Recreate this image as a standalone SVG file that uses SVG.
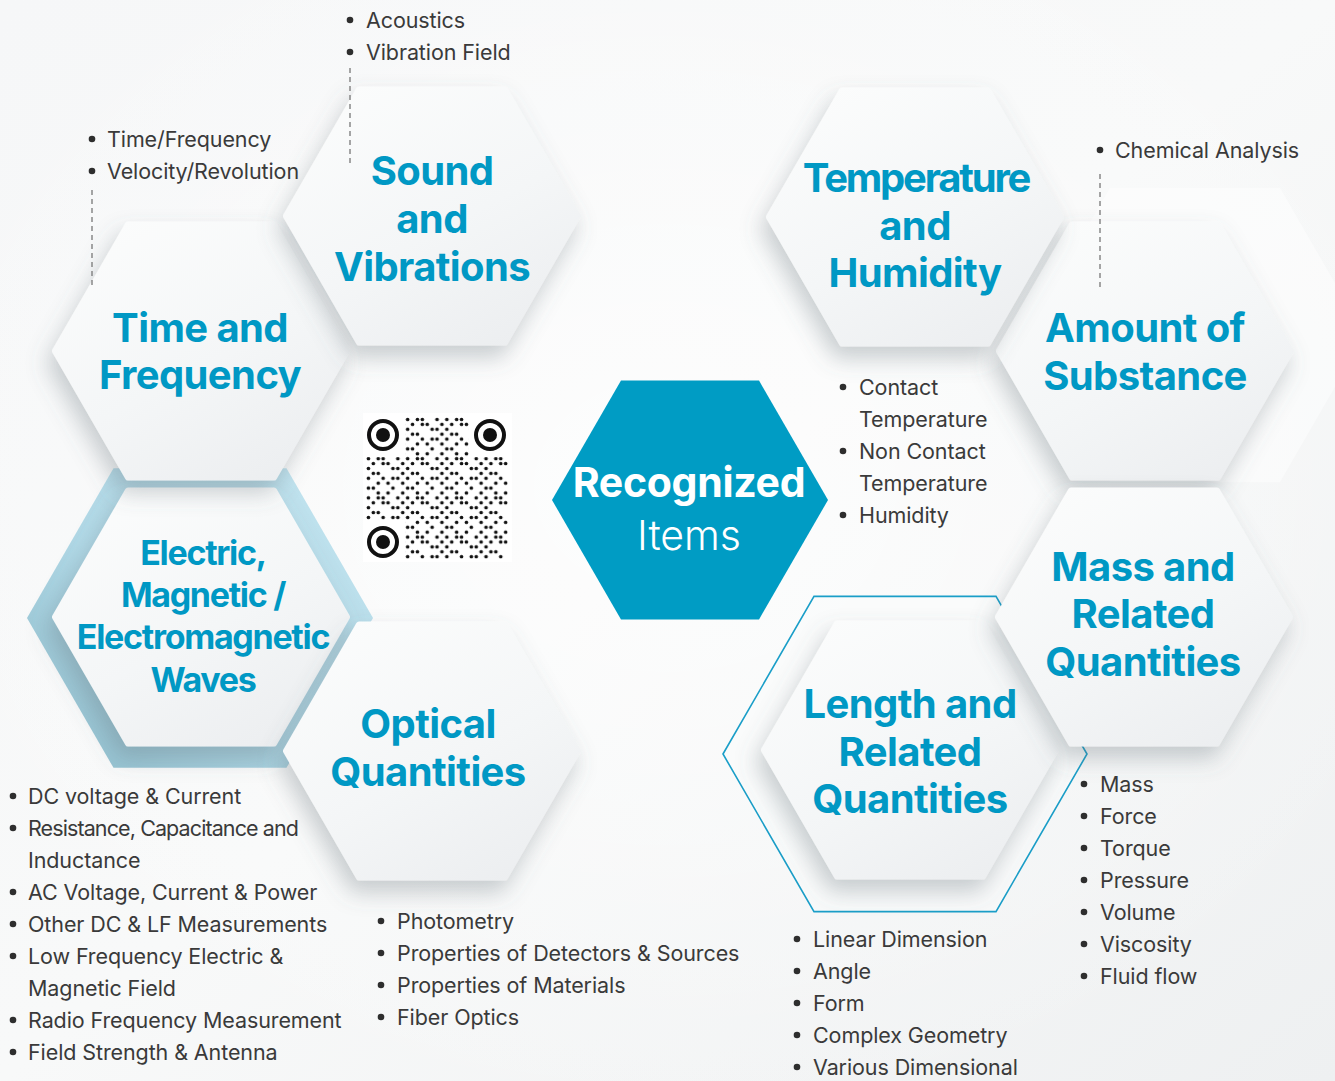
<svg xmlns="http://www.w3.org/2000/svg" width="1335" height="1081" viewBox="0 0 1335 1081">
<defs>
<style>
.title{font-family:Inter,"Liberation Sans",sans-serif;font-weight:700;font-size:40px;fill:#0098c4;text-anchor:middle;letter-spacing:-0.6px}
.etitle{font-family:Inter,"Liberation Sans",sans-serif;font-weight:700;font-size:34px;fill:#0098c4;text-anchor:middle;letter-spacing:-1.3px}
.item{font-family:Inter,"Liberation Sans",sans-serif;font-weight:400;font-size:21.5px;fill:#3a3a3a;letter-spacing:-0.1px}
.dot{fill:#2e2e2e}
.hex{fill:url(#hexg);stroke:url(#hexg);stroke-width:6;stroke-linejoin:round;filter:url(#sh)}
.lead{stroke:#777;stroke-width:1.3;stroke-dasharray:5 4;fill:none}
</style>
<linearGradient id="bg" x1="0" y1="0" x2="1" y2="1">
<stop offset="0" stop-color="#f6f7f8"/><stop offset="0.5" stop-color="#f8f9f9"/><stop offset="1" stop-color="#eef0f1"/>
</linearGradient>
<radialGradient id="bgl" cx="0.5" cy="0.45" r="0.6">
<stop offset="0" stop-color="#ffffff" stop-opacity="0.7"/><stop offset="1" stop-color="#ffffff" stop-opacity="0"/>
</radialGradient>
<linearGradient id="hexg" x1="0.2" y1="0" x2="0.8" y2="1">
<stop offset="0" stop-color="#fbfcfc"/><stop offset="0.55" stop-color="#f4f6f7"/><stop offset="1" stop-color="#eceef0"/>
</linearGradient>
<linearGradient id="blueg" x1="1" y1="0" x2="0" y2="1">
<stop offset="0" stop-color="#c4e5f0"/><stop offset="0.55" stop-color="#b0d8e6"/><stop offset="1" stop-color="#8dbccb"/>
</linearGradient>
<filter id="sh" x="-30%" y="-30%" width="160%" height="170%">
<feDropShadow dx="-5" dy="12" stdDeviation="11" flood-color="#5f6a74" flood-opacity="0.32"/>
</filter>
<pattern id="qr" patternUnits="userSpaceOnUse" x="366" y="417" width="39.2" height="39.2">
<g fill="#111">
<circle cx="2.45" cy="2.45" r="1.8"/><circle cx="12.25" cy="2.45" r="1.8"/><circle cx="17.15" cy="2.45" r="1.8"/><circle cx="31.85" cy="2.45" r="1.8"/>
<circle cx="7.35" cy="7.35" r="1.8"/><circle cx="17.15" cy="7.35" r="1.8"/><circle cx="22.05" cy="7.35" r="1.8"/><circle cx="36.75" cy="7.35" r="1.8"/>
<circle cx="2.45" cy="12.25" r="1.8"/><circle cx="26.95" cy="12.25" r="1.8"/><circle cx="31.85" cy="12.25" r="1.8"/>
<circle cx="7.35" cy="17.15" r="1.8"/><circle cx="12.25" cy="17.15" r="1.8"/><circle cx="36.75" cy="17.15" r="1.8"/>
<circle cx="2.45" cy="22.05" r="1.8"/><circle cx="17.15" cy="22.05" r="1.8"/><circle cx="26.95" cy="22.05" r="1.8"/><circle cx="31.85" cy="22.05" r="1.8"/>
<circle cx="12.25" cy="26.95" r="1.8"/><circle cx="22.05" cy="26.95" r="1.8"/><circle cx="36.75" cy="26.95" r="1.8"/>
<circle cx="2.45" cy="31.85" r="1.8"/><circle cx="7.35" cy="31.85" r="1.8"/><circle cx="26.95" cy="31.85" r="1.8"/>
<circle cx="12.25" cy="36.75" r="1.8"/><circle cx="22.05" cy="36.75" r="1.8"/><circle cx="36.75" cy="36.75" r="1.8"/>
</g>
</pattern>
</defs>

<rect x="0" y="0" width="1335" height="1081" fill="url(#bg)"/>
<rect x="0" y="0" width="1335" height="1081" fill="url(#bgl)"/>
<polygon points="1025,335 1110,187.8 1280,187.8 1365,335 1280,482.2 1110,482.2" fill="#ffffff" opacity="0.45"/>

<g id="node-electric">
<polygon points="27,618 113.5,468.2 286.5,468.2 373,618 286.5,767.8 113.5,767.8" fill="url(#blueg)"/>
<polygon class="hex" points="55,617 128,490.6 274,490.6 347,617 274,743.4 128,743.4"/>
<text class="etitle" x="203" y="565">Electric,</text>
<text class="etitle" x="203" y="607">Magnetic /</text>
<text class="etitle" x="203" y="649">Electromagnetic</text>
<text class="etitle" x="203" y="692">Waves</text>
</g>

<g id="node-time">
<polygon class="hex" points="55,351 128,224.6 274,224.6 347,351 274,477.4 128,477.4"/>
<text class="title" x="200" y="342">Time and</text>
<text class="title" x="200" y="389">Frequency</text>
</g>

<g id="node-sound">
<polygon class="hex" points="286,216 359,89.6 505,89.6 578,216 505,342.4 359,342.4"/>
<text class="title" x="432" y="185">Sound</text>
<text class="title" x="432" y="233">and</text>
<text class="title" x="432" y="281">Vibrations</text>
</g>

<g id="node-optical">
<polygon class="hex" points="286,751 359,624.6 505,624.6 578,751 505,877.4 359,877.4"/>
<text class="title" x="428" y="738">Optical</text>
<text class="title" x="428" y="786">Quantities</text>
</g>

<g id="node-amount">
<polygon class="hex" points="999,351 1072,224.6 1218,224.6 1291,351 1218,477.4 1072,477.4"/>
<text class="title" x="1145" y="342">Amount of</text>
<text class="title" x="1145" y="390">Substance</text>
</g>

<g id="node-temperature">
<polygon class="hex" points="769,217 842,90.6 988,90.6 1061,217 988,343.4 842,343.4"/>
<text class="title" x="916" y="192" style="letter-spacing:-2.2px">Temperature</text>
<text class="title" x="915" y="240">and</text>
<text class="title" x="915" y="287">Humidity</text>
</g>

<g id="node-length">
<polygon points="723,754 814,596.4 996,596.4 1087,754 996,911.6 814,911.6" fill="#fafbfb" fill-opacity="0.6" stroke="#1a9ec8" stroke-width="1.6"/>
<polygon class="hex" points="764,750 837,623.6 983,623.6 1056,750 983,876.4 837,876.4"/>
<text class="title" x="910" y="718">Length and</text>
<text class="title" x="910" y="766">Related</text>
<text class="title" x="910" y="813">Quantities</text>
</g>

<g id="node-mass">
<polygon class="hex" points="998,617 1071,490.6 1217,490.6 1290,617 1217,743.4 1071,743.4"/>
<text class="title" x="1143" y="581">Mass and</text>
<text class="title" x="1143" y="628">Related</text>
<text class="title" x="1143" y="676">Quantities</text>
</g>

<g id="node-recognized">
<polygon points="552,500 621,380.5 759,380.5 828,500 759,619.5 621,619.5" fill="#009cc4"/>
<text x="689" y="497" text-anchor="middle" font-family="Inter,'Liberation Sans',sans-serif" font-weight="700" font-size="41" fill="#ffffff" letter-spacing="-0.3">Recognized</text>
<text x="689" y="550" text-anchor="middle" font-family="Inter,'Liberation Sans',sans-serif" font-weight="300" font-size="41" fill="#ffffff">Items</text>
</g>

<g id="qr-code">
<rect x="363" y="413" width="149" height="149" fill="#ffffff"/>
<rect x="366" y="417" width="142" height="142" fill="url(#qr)"/>
<rect x="363" y="413" width="42" height="44" fill="#ffffff"/>
<rect x="469" y="413" width="43" height="44" fill="#ffffff"/>
<rect x="363" y="520" width="42" height="42" fill="#ffffff"/>
<g fill="none" stroke="#111" stroke-width="4">
<circle cx="383" cy="435" r="14"/><circle cx="490" cy="435" r="14"/><circle cx="383" cy="542" r="14"/>
</g>
<g fill="#111">
<circle cx="383" cy="435" r="7"/><circle cx="490" cy="435" r="7"/><circle cx="383" cy="542" r="7"/>
</g>
</g>

<g id="connectors">
<line class="lead" x1="350" y1="68" x2="350" y2="165"/>
<line class="lead" x1="92" y1="190" x2="92" y2="285"/>
<line class="lead" x1="1100" y1="174" x2="1100" y2="288"/>
</g>

<g id="list-sound">
<circle class="dot" cx="350" cy="20" r="3.3"/><text class="item" x="366" y="28">Acoustics</text>
<circle class="dot" cx="350" cy="52" r="3.3"/><text class="item" x="366" y="60">Vibration Field</text>
</g>
<g id="list-time">
<circle class="dot" cx="92" cy="139" r="3.3"/><text class="item" x="107" y="147">Time/Frequency</text>
<circle class="dot" cx="92" cy="171" r="3.3"/><text class="item" x="107" y="179">Velocity/Revolution</text>
</g>
<g id="list-amount">
<circle class="dot" cx="1100" cy="150" r="3.3"/><text class="item" x="1115" y="158">Chemical Analysis</text>
</g>
<g id="list-temperature">
<circle class="dot" cx="843" cy="387" r="3.3"/><text class="item" x="859" y="395">Contact</text>
<text class="item" x="859" y="427">Temperature</text>
<circle class="dot" cx="843" cy="451" r="3.3"/><text class="item" x="859" y="459">Non Contact</text>
<text class="item" x="859" y="491">Temperature</text>
<circle class="dot" cx="843" cy="515" r="3.3"/><text class="item" x="859" y="523">Humidity</text>
</g>
<g id="list-electric">
<circle class="dot" cx="13" cy="796" r="3.3"/><text class="item" x="28" y="804">DC voltage &amp; Current</text>
<circle class="dot" cx="13" cy="828" r="3.3"/><text class="item" x="28" y="836" style="letter-spacing:-0.9px">Resistance, Capacitance and</text>
<text class="item" x="28" y="868">Inductance</text>
<circle class="dot" cx="13" cy="892" r="3.3"/><text class="item" x="28" y="900">AC Voltage, Current &amp; Power</text>
<circle class="dot" cx="13" cy="924" r="3.3"/><text class="item" x="28" y="932">Other DC &amp; LF Measurements</text>
<circle class="dot" cx="13" cy="956" r="3.3"/><text class="item" x="28" y="964">Low Frequency Electric &amp;</text>
<text class="item" x="28" y="996">Magnetic Field</text>
<circle class="dot" cx="13" cy="1020" r="3.3"/><text class="item" x="28" y="1028">Radio Frequency Measurement</text>
<circle class="dot" cx="13" cy="1052" r="3.3"/><text class="item" x="28" y="1060">Field Strength &amp; Antenna</text>
</g>
<g id="list-optical">
<circle class="dot" cx="381" cy="921" r="3.3"/><text class="item" x="397" y="929">Photometry</text>
<circle class="dot" cx="381" cy="953" r="3.3"/><text class="item" x="397" y="961">Properties of Detectors &amp; Sources</text>
<circle class="dot" cx="381" cy="985" r="3.3"/><text class="item" x="397" y="993">Properties of Materials</text>
<circle class="dot" cx="381" cy="1017" r="3.3"/><text class="item" x="397" y="1025">Fiber Optics</text>
</g>
<g id="list-length">
<circle class="dot" cx="797" cy="939" r="3.3"/><text class="item" x="813" y="947">Linear Dimension</text>
<circle class="dot" cx="797" cy="971" r="3.3"/><text class="item" x="813" y="979">Angle</text>
<circle class="dot" cx="797" cy="1003" r="3.3"/><text class="item" x="813" y="1011">Form</text>
<circle class="dot" cx="797" cy="1035" r="3.3"/><text class="item" x="813" y="1043">Complex Geometry</text>
<circle class="dot" cx="797" cy="1067" r="3.3"/><text class="item" x="813" y="1075">Various Dimensional</text>
</g>
<g id="list-mass">
<circle class="dot" cx="1084" cy="784" r="3.3"/><text class="item" x="1100" y="792">Mass</text>
<circle class="dot" cx="1084" cy="816" r="3.3"/><text class="item" x="1100" y="824">Force</text>
<circle class="dot" cx="1084" cy="848" r="3.3"/><text class="item" x="1100" y="856">Torque</text>
<circle class="dot" cx="1084" cy="880" r="3.3"/><text class="item" x="1100" y="888">Pressure</text>
<circle class="dot" cx="1084" cy="912" r="3.3"/><text class="item" x="1100" y="920">Volume</text>
<circle class="dot" cx="1084" cy="944" r="3.3"/><text class="item" x="1100" y="952">Viscosity</text>
<circle class="dot" cx="1084" cy="976" r="3.3"/><text class="item" x="1100" y="984">Fluid flow</text>
</g>
</svg>
